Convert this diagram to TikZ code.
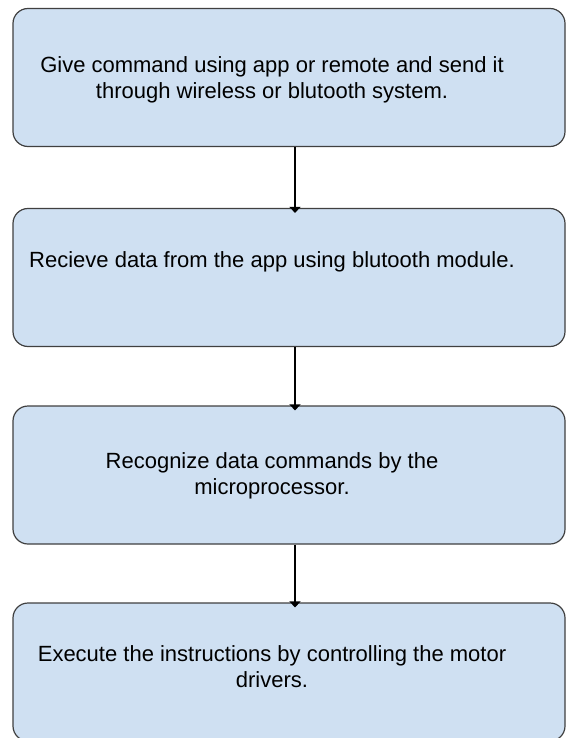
\documentclass[tikz,border=0pt]{standalone}
\usepackage{fontspec}
\setmainfont{Liberation Sans}
\usetikzlibrary{arrows.meta}

\definecolor{boxfill}{HTML}{CFE0F2}
\definecolor{boxline}{HTML}{404040}

\tikzset{
    stepbox/.style={draw=boxline, fill=boxfill, line width=1.2pt, rounded corners=15pt,
        minimum width=552pt, minimum height=138pt, inner sep=0pt},
    steptext/.style={align=center, inner sep=0pt, font=\fontsize{22}{26}\selectfont},
    flow/.style={line width=2.2pt, -{Triangle[width=11pt,length=6pt]}}
}

\begin{document}
\begin{tikzpicture}[x=1pt,y=-1pt]
    \useasboundingbox (0,0) rectangle (566,738);
    \clip (0,0) rectangle (566,738);
    % les boites
    \node[stepbox] (send) at (289,77.5) {};
    \node[stepbox] (recv) at (289,277.5) {};
    \node[stepbox] (recog) at (289,475) {};
    \node[stepbox] (exec) at (289,672) {};
    % les textes
    \node[steptext] (sendtxt) at (272,80) {Give command using app or remote and send it\\through wireless or blutooth system.};
    \node[steptext] (recvtxt) at (272,262) {Recieve data from the app using blutooth module.};
    \node[steptext] (recogtxt) at (272,476) {Recognize data commands by the\\microprocessor.};
    \node[steptext] (exectxt) at (272,667) {Execute the instructions by controlling the motor\\drivers.};
    % les fleches
    \draw[flow] ([xshift=6pt]send.south) -- ([xshift=6pt,yshift=-5pt]recv.north);
    \draw[flow] ([xshift=6pt]recv.south) -- ([xshift=6pt,yshift=-5pt]recog.north);
    \draw[flow] ([xshift=6pt]recog.south) -- ([xshift=6pt,yshift=-5pt]exec.north);
\end{tikzpicture}
\end{document}
